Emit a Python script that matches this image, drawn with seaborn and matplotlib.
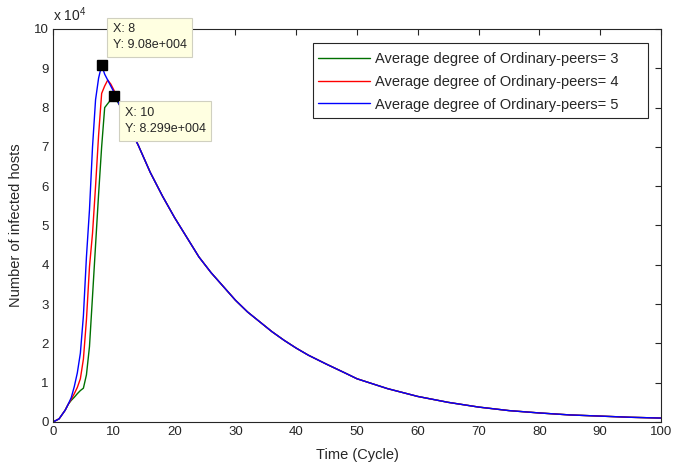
import numpy as np
import pandas as pd
import seaborn as sns
import matplotlib
matplotlib.use("Agg")
import matplotlib.pyplot as plt
from matplotlib.patches import Rectangle

# ---- data (values in units of 1e4 infected hosts) ----
time = [0, 1, 2, 2.5, 3, 3.5, 4, 4.5, 5, 5.5, 6, 6.5, 7, 7.5, 8, 8.5, 9, 9.5, 10,
        11, 12, 13, 14, 15, 16, 18, 20, 22, 24, 26, 28, 30, 32, 34, 36, 38, 40,
        42, 45, 48, 50, 55, 60, 65, 70, 75, 80, 85, 90, 95, 100]

tail = [8.05, 7.7, 7.35, 7.05, 6.7, 6.35, 5.75, 5.2, 4.7, 4.2, 3.8, 3.45, 3.1,
        2.8, 2.55, 2.3, 2.08, 1.88, 1.7, 1.47, 1.25, 1.1, 0.85, 0.65, 0.5,
        0.38, 0.29, 0.23, 0.18, 0.15, 0.12, 0.1]

deg3 = [0, 0.08, 0.3, 0.45, 0.55, 0.63, 0.72, 0.8, 0.86, 1.2, 1.92, 3.2, 4.5,
        5.8, 7.0, 8.0, 8.1, 8.2, 8.299] + tail
deg4 = [0, 0.08, 0.3, 0.45, 0.58, 0.72, 0.88, 1.1, 1.6, 2.6, 3.95, 4.8, 6.0,
        7.3, 8.36, 8.55, 8.7, 8.6, 8.45] + tail
deg5 = [0, 0.08, 0.3, 0.45, 0.62, 0.9, 1.25, 1.75, 2.7, 4.2, 5.4, 7.0, 8.2,
        8.75, 9.08, 8.85, 8.7, 8.55, 8.4] + tail

labels = ["Average degree of Ordinary-peers= 3",
          "Average degree of Ordinary-peers= 4",
          "Average degree of Ordinary-peers= 5"]
colors = ["#007000", "#FF0000", "#0000FF"]

xticks = list(range(0, 101, 10))
yticks = list(range(0, 11))

tip_points = [(8, 9.08, "X: 8\nY: 9.08e+004"), (10, 8.299, "X: 10\nY: 8.299e+004")]

df = pd.concat([
    pd.DataFrame({"Time": time, "Infected": vals, "Series": lab})
    for vals, lab in zip([deg3, deg4, deg5], labels)
], ignore_index=True)

sns.set_theme(style="white")
plt.rcParams["font.family"] = ["Liberation Sans", "DejaVu Sans"]
plt.rcParams["mathtext.fontset"] = "custom"
plt.rcParams["mathtext.rm"] = "Liberation Sans"

fig = plt.figure(figsize=(6.73, 4.68), dpi=100)
ax = fig.add_axes([53 / 673, 1 - 422 / 468, 608 / 673, 393 / 468])

sns.lineplot(data=df, x="Time", y="Infected", hue="Series", hue_order=labels,
             palette=colors, linewidth=1.0, ax=ax, sort=False, estimator=None)

ax.set_xlim(0, 100)
ax.set_ylim(0, 10)
ax.set_xticks(xticks)
ax.set_yticks(yticks)
ax.set_xticklabels([str(v) for v in xticks])
ax.set_yticklabels([str(v) for v in yticks])
ax.tick_params(direction="in", length=4.5, width=0.8, top=True, right=True,
               labelsize=9.5, colors="#262626", pad=3)
for s in ax.spines.values():
    s.set_color("#262626")
    s.set_linewidth(0.8)
    s.set_visible(True)

ax.set_xlabel("Time (Cycle)", fontsize=10.5, color="#262626", labelpad=7)
ax.set_ylabel("Number of infected hosts", fontsize=10.5, color="#262626", labelpad=8)
ax.text(0.0, 1.012, r"x 10$^{4}$", transform=ax.transAxes, fontsize=10,
        color="#262626", ha="left", va="bottom")

# legend (frame drawn separately to match the wide MATLAB box)
leg = ax.legend(loc="upper left", bbox_to_anchor=(0.4359, 0.9420), borderaxespad=0,
                fontsize=10.5, frameon=False, handlelength=3.55,
                labelspacing=0.61, borderpad=0.0, handletextpad=0.35)
ax.add_patch(Rectangle((0.4276, 0.7735), 0.9786 - 0.4276, 0.9644 - 0.7735,
                       transform=ax.transAxes, facecolor="white",
                       edgecolor="#262626", linewidth=0.8, zorder=4))
leg.set_zorder(5)

# data tips
offsets = [(11, 42), (11, -11)]
for (xp, yp, txt), off in zip(tip_points, offsets):
    ax.plot([xp], [yp], marker="s", markersize=7, color="black", zorder=6,
            clip_on=False)
    ax.annotate(txt, xy=(xp, yp), xytext=off, textcoords="offset pixels",
                ha="left", va="top", fontsize=9, color="#262626",
                annotation_clip=False, zorder=7, linespacing=1.45,
                bbox=dict(boxstyle="square,pad=0.45", facecolor="#FFFFE1",
                          edgecolor="#D0D0C0", linewidth=0.8))

fig.savefig("out.png", dpi=100, facecolor="white")
